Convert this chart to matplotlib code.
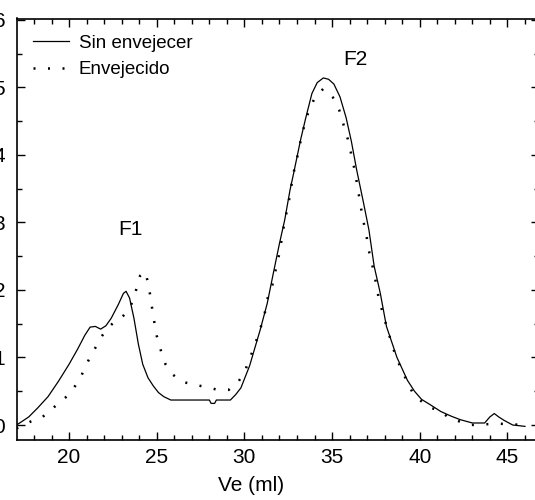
import matplotlib
matplotlib.use("Agg")
import matplotlib.pyplot as plt
from matplotlib.ticker import MultipleLocator

plt.rcParams['font.family'] = ['Liberation Sans Narrow', 'Liberation Sans', 'DejaVu Sans']

# =====
# Data
# =====
ve_sin = [17.0, 17.3, 17.7, 18.2, 18.8, 19.4, 20.0, 20.5, 20.9, 21.2, 21.5, 21.8,
          22.1, 22.4, 22.8, 23.1, 23.25, 23.45, 23.7, 23.95, 24.2, 24.5, 24.8,
          25.1, 25.4, 25.8, 27.5, 28.0, 28.1, 28.3, 28.4, 29.2, 29.5, 29.8, 30.3,
          30.9, 31.3, 31.65, 32.0, 32.3, 32.6, 32.8, 33.0, 33.2, 33.5, 33.85,
          34.15, 34.5, 34.8, 35.1, 35.45, 35.8, 36.1, 36.4, 36.8, 37.1, 37.4,
          37.75, 38.1, 38.7, 39.3, 39.7, 40.1, 40.6, 41.2, 41.8, 42.3, 43.0,
          43.7, 44.0, 44.25, 44.5, 44.8, 45.3, 46.0]
abs_sin = [0.0, 0.05, 0.12, 0.25, 0.42, 0.65, 0.9, 1.13, 1.33, 1.45, 1.46, 1.42,
           1.47, 1.58, 1.78, 1.95, 1.98, 1.88, 1.58, 1.2, 0.9, 0.7, 0.58,
           0.48, 0.42, 0.37, 0.37, 0.37, 0.32, 0.32, 0.37, 0.37, 0.45, 0.55, 0.88,
           1.41, 1.8, 2.25, 2.69, 3.04, 3.48, 3.72, 3.97, 4.22, 4.55, 4.91,
           5.07, 5.14, 5.12, 5.05, 4.86, 4.55, 4.2, 3.78, 3.28, 2.89, 2.35,
           1.95, 1.46, 1.0, 0.66, 0.5, 0.38, 0.3, 0.2, 0.13, 0.08, 0.03,
           0.03, 0.12, 0.17, 0.12, 0.07, 0.0, -0.02]

ve_env = [17.0, 17.8, 18.4, 18.9, 19.35, 19.9, 20.35, 20.7, 21.05, 21.45, 21.8,
          22.15, 22.55, 23.1, 23.5, 23.8, 24.05, 24.35, 24.55, 24.7, 24.85, 25.0,
          25.25, 25.5, 25.9, 26.45, 27.1, 27.85, 28.5, 29.1, 29.6, 30.0, 30.3,
          30.6, 30.9, 31.15, 31.3, 31.6, 31.8, 32.0, 32.15, 32.3, 32.5, 32.65,
          32.8, 33.0, 33.2, 33.4, 33.65, 34.0, 34.5, 35.05, 35.4, 35.65, 35.9,
          36.1, 36.3, 36.45, 36.6, 36.75, 36.95, 37.1, 37.3, 37.5, 37.65, 37.9,
          38.15, 38.4, 38.65, 39.0, 39.3, 39.65, 40.1, 40.5, 41.2, 41.7, 42.9,
          44.5, 46.0]
abs_env = [-0.05, 0.05, 0.1, 0.21, 0.31, 0.43, 0.58, 0.73, 0.93, 1.12, 1.29,
           1.42, 1.52, 1.62, 1.75, 1.98, 2.21, 2.27, 2.05, 1.79, 1.54, 1.32,
           1.09, 0.9, 0.75, 0.64, 0.6, 0.56, 0.52, 0.52, 0.62, 0.78, 0.98,
           1.19, 1.42, 1.64, 1.86, 2.08, 2.32, 2.55, 2.79, 3.03, 3.26, 3.5,
           3.73, 3.95, 4.2, 4.42, 4.64, 4.84, 4.98, 4.85, 4.67, 4.45, 4.23,
           4.0, 3.76, 3.53, 3.29, 3.06, 2.82, 2.58, 2.36, 2.11, 1.89, 1.65,
           1.42, 1.21, 1.0, 0.8, 0.63, 0.45, 0.35, 0.27, 0.2, 0.1, 0.0,
           0.02, 0.0]

labels = ['Sin envejecer', 'Envejecido']
peak_names = ['F1', 'F2']
peak_pos = [(23.5, 2.9), (36.3, 5.42)]

# =====
# Plot
# =====
fig = plt.figure(figsize=(5.35, 5.0), dpi=100)
ax = fig.add_axes([17 / 535, 60 / 500, 522 / 535, 421.5 / 500])

ax.plot(ve_sin, abs_sin, color='black', linewidth=0.9, label=labels[0])
ax.plot(ve_env, abs_env, color='black', linewidth=1.8,
        linestyle=(0, (0.8, 5.0)), label=labels[1])

for name, (px, py) in zip(peak_names, peak_pos):
    ax.text(px, py, name, fontsize=15, ha='center', va='center')

ax.set_xlim(17.03, 46.8)
ax.set_ylim(-0.222, 6.02)
ax.xaxis.set_major_locator(MultipleLocator(5))
ax.xaxis.set_minor_locator(MultipleLocator(1))
ax.yaxis.set_major_locator(MultipleLocator(1))
ax.yaxis.set_minor_locator(MultipleLocator(0.5))
ax.tick_params(which='both', direction='in', top=True, right=True, labelsize=15)
ax.tick_params(which='major', length=6, width=1)
ax.tick_params(which='minor', length=3.5, width=1)
ax.tick_params(axis='y', pad=8.5)
ax.tick_params(axis='x', pad=6)
for sp in ax.spines.values():
    sp.set_linewidth(1.2)

ax.set_xlabel('Ve (ml)', fontsize=15)
ax.xaxis.set_label_coords(0.448, -0.085)

ax.legend(loc='upper left', bbox_to_anchor=(0.0, 1.0), frameon=False, fontsize=13.5,
          handlelength=1.9, handletextpad=0.55, labelspacing=0.5,
          borderaxespad=0.45)

fig.savefig('out.png', dpi=100)
